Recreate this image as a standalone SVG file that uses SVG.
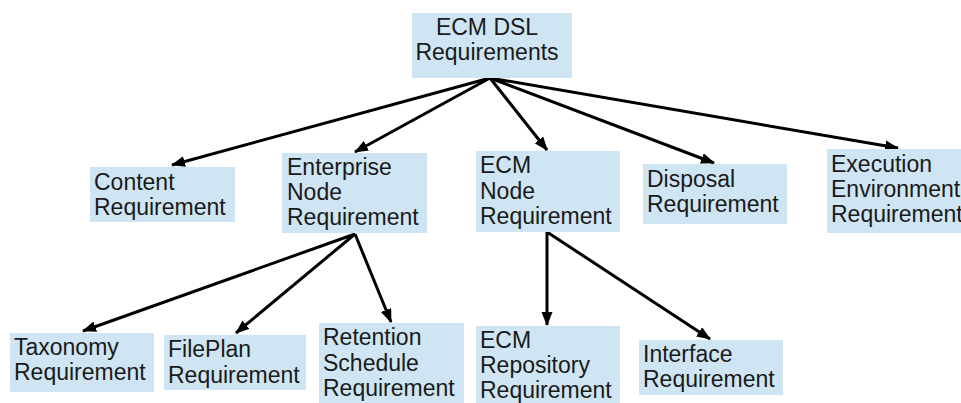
<svg xmlns="http://www.w3.org/2000/svg" width="961" height="403" viewBox="0 0 961 403">
<style>
.box{fill:#cfe5f3;}
.t{font-family:"Liberation Sans",Arial,sans-serif;font-size:23px;fill:#1a1a1a;}
.c{stroke:#000;stroke-width:3;fill:none;marker-end:url(#ah);}
</style>
<defs>
<marker id="ah" markerUnits="userSpaceOnUse" markerWidth="14" markerHeight="12" refX="13" refY="5.5" orient="auto">
<path d="M0,0 L14,5.5 L0,11 z" fill="#000"/>
</marker>
</defs>
<rect width="961" height="403" fill="#fff"/>
<g id="connectors">
<line class="c" x1="490" y1="78" x2="172" y2="165"/>
<line class="c" x1="490" y1="78" x2="355" y2="152"/>
<line class="c" x1="490" y1="78" x2="547" y2="150"/>
<line class="c" x1="490" y1="78" x2="714" y2="163"/>
<line class="c" x1="490" y1="78" x2="898" y2="148"/>
<line class="c" x1="355" y1="234" x2="83" y2="331"/>
<line class="c" x1="355" y1="234" x2="236" y2="333"/>
<line class="c" x1="355" y1="234" x2="391" y2="322"/>
<line class="c" x1="547" y1="232" x2="547" y2="325"/>
<line class="c" x1="547" y1="232" x2="710" y2="339"/>
</g>
<g id="root">
<rect class="box" x="412" y="13" width="160" height="65"/>
<text class="t" text-anchor="middle"><tspan x="487" y="35">ECM DSL</tspan><tspan x="487" y="60">Requirements</tspan></text>
</g>
<g id="content">
<rect class="box" x="90" y="167" width="145" height="55"/>
<text class="t"><tspan x="94" y="190">Content</tspan><tspan x="94" y="215">Requirement</tspan></text>
</g>
<g id="enterprise">
<rect class="box" x="282" y="153" width="145" height="80"/>
<text class="t"><tspan x="287" y="175">Enterprise</tspan><tspan x="287" y="200">Node</tspan><tspan x="287" y="225">Requirement</tspan></text>
</g>
<g id="ecmnode">
<rect class="box" x="476" y="151" width="144" height="81"/>
<text class="t"><tspan x="480" y="173">ECM</tspan><tspan x="480" y="199">Node</tspan><tspan x="480" y="224">Requirement</tspan></text>
</g>
<g id="disposal">
<rect class="box" x="643" y="164" width="144" height="60"/>
<text class="t"><tspan x="647" y="187">Disposal</tspan><tspan x="647" y="212">Requirement</tspan></text>
</g>
<g id="execution">
<rect class="box" x="827" y="149" width="134" height="84"/>
<text class="t"><tspan x="831" y="172">Execution</tspan><tspan x="831" y="197">Environment</tspan><tspan x="831" y="222">Requirement</tspan></text>
</g>
<g id="taxonomy">
<rect class="box" x="10" y="333" width="144" height="59"/>
<text class="t"><tspan x="14" y="355">Taxonomy</tspan><tspan x="14" y="380">Requirement</tspan></text>
</g>
<g id="fileplan">
<rect class="box" x="164" y="335" width="142" height="55"/>
<text class="t"><tspan x="168" y="357">FilePlan</tspan><tspan x="168" y="383">Requirement</tspan></text>
</g>
<g id="retention">
<rect class="box" x="319" y="323" width="145" height="80"/>
<text class="t"><tspan x="323" y="345">Retention</tspan><tspan x="323" y="371">Schedule</tspan><tspan x="323" y="396">Requirement</tspan></text>
</g>
<g id="repository">
<rect class="box" x="476" y="326" width="144" height="77"/>
<text class="t"><tspan x="480" y="348">ECM</tspan><tspan x="480" y="373">Repository</tspan><tspan x="480" y="398">Requirement</tspan></text>
</g>
<g id="interface">
<rect class="box" x="639" y="340" width="144" height="55"/>
<text class="t"><tspan x="643" y="362">Interface</tspan><tspan x="643" y="387">Requirement</tspan></text>
</g>
</svg>
